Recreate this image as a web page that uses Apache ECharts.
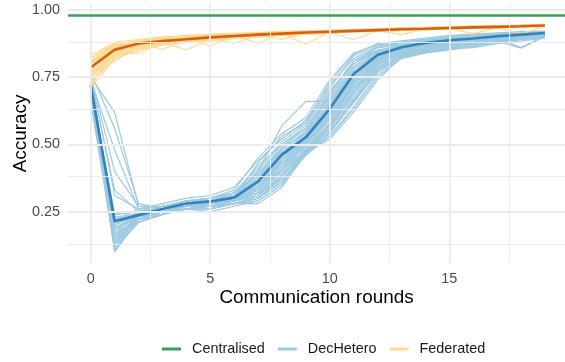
<!DOCTYPE html>
<html>
<head>
<meta charset="utf-8">
<script src="https://cdn.jsdelivr.net/npm/echarts@6/dist/echarts.min.js"></script>
<style>
  html, body { margin: 0; padding: 0; background: #ffffff; }
  #chart { width: 565px; height: 362px; }
</style>
</head>
<body>
<div id="chart"></div>
<script>
// Communication rounds on the x axis
const rounds = [0, 1, 2, 3, 4, 5, 6, 7, 8, 9, 10, 11, 12, 13, 14, 15, 16, 17, 18, 19];

// Tick labels
const xTicks = [0, 5, 10, 15];
const yTicks = [0.25, 0.5, 0.75, 1.0];
const xMinorTicks = [2.5, 7.5, 12.5, 17.5];
const yMinorTicks = [0.125, 0.375, 0.625, 0.875];

// Centralised training reference accuracy
const centralisedAccuracy = 0.98;

// Individual DecHetero runs
const decHeteroRuns = [
  [0.74,0.18,0.25,0.27,0.29,0.30,0.33,0.45,0.54,0.60,0.74,0.84,0.87,0.88,0.89,0.90,0.91,0.91,0.92,0.92],
  [0.70,0.22,0.26,0.28,0.30,0.31,0.34,0.44,0.52,0.59,0.72,0.82,0.86,0.88,0.89,0.90,0.905,0.91,0.915,0.92],
  [0.76,0.15,0.24,0.27,0.28,0.30,0.32,0.42,0.50,0.57,0.70,0.80,0.86,0.87,0.88,0.89,0.90,0.91,0.91,0.915],
  [0.72,0.20,0.25,0.26,0.29,0.29,0.31,0.40,0.50,0.56,0.68,0.80,0.85,0.87,0.885,0.895,0.90,0.905,0.91,0.915],
  [0.68,0.12,0.23,0.26,0.28,0.29,0.31,0.39,0.48,0.55,0.67,0.79,0.85,0.865,0.88,0.89,0.90,0.905,0.91,0.91],
  [0.75,0.62,0.27,0.27,0.28,0.30,0.31,0.38,0.47,0.54,0.66,0.78,0.84,0.86,0.88,0.89,0.895,0.90,0.91,0.915],
  [0.71,0.23,0.24,0.26,0.28,0.28,0.30,0.37,0.46,0.53,0.65,0.77,0.84,0.86,0.875,0.885,0.895,0.90,0.905,0.91],
  [0.73,0.10,0.22,0.25,0.27,0.28,0.30,0.36,0.46,0.52,0.64,0.77,0.83,0.86,0.87,0.885,0.89,0.90,0.91,0.915],
  [0.77,0.56,0.28,0.26,0.27,0.29,0.30,0.35,0.45,0.52,0.63,0.76,0.83,0.855,0.875,0.88,0.89,0.90,0.90,0.91],
  [0.69,0.19,0.23,0.25,0.27,0.28,0.30,0.35,0.44,0.51,0.62,0.75,0.82,0.85,0.87,0.88,0.89,0.90,0.905,0.91],
  [0.72,0.14,0.22,0.25,0.27,0.29,0.29,0.34,0.43,0.50,0.61,0.74,0.82,0.85,0.865,0.88,0.89,0.895,0.86,0.905],
  [0.74,0.48,0.26,0.27,0.29,0.30,0.31,0.34,0.43,0.50,0.60,0.73,0.81,0.85,0.87,0.88,0.885,0.895,0.905,0.91],
  [0.70,0.21,0.24,0.25,0.27,0.28,0.29,0.33,0.42,0.49,0.59,0.72,0.81,0.84,0.86,0.875,0.885,0.89,0.90,0.91],
  [0.66,0.11,0.22,0.24,0.26,0.27,0.29,0.32,0.41,0.48,0.58,0.71,0.80,0.84,0.845,0.852,0.88,0.89,0.90,0.905],
  [0.76,0.40,0.27,0.26,0.28,0.29,0.30,0.32,0.40,0.48,0.57,0.70,0.80,0.835,0.85,0.87,0.88,0.89,0.90,0.91],
  [0.73,0.16,0.23,0.25,0.27,0.28,0.29,0.31,0.39,0.47,0.56,0.69,0.79,0.83,0.855,0.865,0.861,0.89,0.90,0.905],
  [0.71,0.24,0.25,0.26,0.28,0.27,0.28,0.31,0.38,0.47,0.55,0.67,0.78,0.83,0.85,0.86,0.875,0.885,0.858,0.90],
  [0.67,0.13,0.21,0.24,0.26,0.26,0.28,0.30,0.37,0.46,0.54,0.66,0.77,0.82,0.845,0.86,0.87,0.885,0.895,0.90],
  [0.75,0.33,0.25,0.27,0.28,0.27,0.28,0.30,0.36,0.47,0.53,0.64,0.76,0.82,0.84,0.855,0.865,0.88,0.89,0.90],
  [0.72,0.17,0.22,0.24,0.26,0.25,0.27,0.29,0.35,0.46,0.53,0.63,0.75,0.82,0.84,0.85,0.865,0.88,0.89,0.90],
  [0.70,0.21,0.23,0.24,0.27,0.26,0.28,0.28,0.34,0.47,0.52,0.62,0.74,0.825,0.845,0.855,0.86,0.875,0.885,0.895],
  [0.74,0.19,0.24,0.26,0.28,0.29,0.31,0.40,0.57,0.66,0.66,0.76,0.82,0.86,0.88,0.89,0.90,0.90,0.91,0.92],
  [0.69,0.14,0.23,0.25,0.26,0.27,0.30,0.36,0.40,0.50,0.60,0.72,0.81,0.845,0.86,0.875,0.885,0.895,0.905,0.91],
  [0.73,0.22,0.24,0.26,0.28,0.29,0.30,0.38,0.49,0.54,0.69,0.81,0.85,0.86,0.88,0.89,0.895,0.905,0.91,0.915],
  [0.71,0.105,0.22,0.25,0.27,0.28,0.30,0.43,0.53,0.58,0.73,0.835,0.875,0.885,0.895,0.905,0.91,0.915,0.918,0.92],
  [0.69,0.13,0.23,0.26,0.28,0.29,0.32,0.41,0.51,0.58,0.71,0.83,0.865,0.88,0.89,0.90,0.905,0.912,0.915,0.918],
  [0.73,0.17,0.24,0.27,0.29,0.30,0.32,0.39,0.49,0.56,0.69,0.81,0.86,0.875,0.885,0.895,0.90,0.908,0.912,0.916],
  [0.75,0.20,0.25,0.27,0.28,0.29,0.31,0.37,0.48,0.55,0.67,0.79,0.845,0.87,0.88,0.89,0.897,0.904,0.91,0.914],
  [0.70,0.15,0.22,0.25,0.27,0.28,0.30,0.36,0.47,0.54,0.655,0.78,0.84,0.865,0.878,0.888,0.895,0.902,0.907,0.912],
  [0.67,0.22,0.24,0.26,0.27,0.28,0.29,0.35,0.45,0.53,0.645,0.765,0.835,0.86,0.875,0.885,0.893,0.90,0.905,0.91],
  [0.72,0.12,0.21,0.24,0.26,0.27,0.29,0.34,0.44,0.52,0.635,0.755,0.83,0.857,0.872,0.883,0.89,0.898,0.903,0.908],
  [0.74,0.18,0.23,0.25,0.27,0.28,0.30,0.33,0.44,0.515,0.625,0.745,0.825,0.855,0.87,0.88,0.888,0.896,0.902,0.907],
  [0.70,0.24,0.25,0.27,0.28,0.29,0.30,0.33,0.43,0.51,0.615,0.735,0.82,0.852,0.868,0.878,0.886,0.894,0.90,0.906],
  [0.68,0.16,0.22,0.25,0.26,0.27,0.29,0.32,0.42,0.505,0.605,0.725,0.815,0.85,0.865,0.876,0.884,0.892,0.899,0.905],
  [0.71,0.11,0.21,0.24,0.26,0.27,0.28,0.31,0.41,0.50,0.59,0.71,0.805,0.845,0.86,0.872,0.882,0.89,0.897,0.903],
  [0.73,0.20,0.24,0.26,0.27,0.27,0.28,0.30,0.38,0.49,0.575,0.695,0.795,0.838,0.855,0.868,0.878,0.887,0.895,0.902],
  [0.69,0.14,0.22,0.24,0.26,0.26,0.28,0.30,0.36,0.48,0.56,0.68,0.785,0.832,0.85,0.864,0.875,0.885,0.893,0.90],
  [0.72,0.23,0.24,0.25,0.27,0.27,0.28,0.29,0.35,0.47,0.545,0.655,0.77,0.826,0.846,0.86,0.872,0.882,0.891,0.899],
  [0.76,0.31,0.26,0.26,0.27,0.28,0.29,0.31,0.39,0.475,0.565,0.70,0.80,0.84,0.856,0.87,0.88,0.888,0.896,0.904],
  [0.70,0.19,0.23,0.25,0.27,0.27,0.29,0.32,0.37,0.465,0.55,0.665,0.775,0.83,0.85,0.862,0.874,0.884,0.892,0.90]
];

// Individual Federated runs
const federatedRuns = [
  [0.83,0.88,0.89,0.90,0.905,0.91,0.913,0.916,0.92,0.922,0.925,0.928,0.93,0.933,0.935,0.938,0.94,0.942,0.944,0.946],
  [0.81,0.87,0.885,0.895,0.90,0.905,0.91,0.915,0.918,0.92,0.923,0.926,0.928,0.93,0.933,0.936,0.938,0.94,0.942,0.945],
  [0.79,0.86,0.88,0.89,0.895,0.90,0.906,0.91,0.915,0.918,0.921,0.924,0.927,0.93,0.932,0.935,0.937,0.939,0.941,0.943],
  [0.77,0.85,0.875,0.885,0.89,0.898,0.904,0.908,0.912,0.873,0.918,0.922,0.925,0.927,0.93,0.933,0.935,0.937,0.94,0.942],
  [0.75,0.84,0.87,0.88,0.851,0.893,0.90,0.905,0.91,0.914,0.917,0.92,0.923,0.908,0.928,0.93,0.933,0.936,0.938,0.94],
  [0.73,0.83,0.86,0.875,0.885,0.89,0.898,0.903,0.908,0.912,0.915,0.89,0.922,0.925,0.927,0.929,0.912,0.934,0.937,0.94],
  [0.71,0.82,0.85,0.87,0.88,0.885,0.895,0.90,0.905,0.91,0.914,0.918,0.92,0.924,0.926,0.928,0.931,0.933,0.912,0.938],
  [0.82,0.875,0.85,0.89,0.898,0.905,0.91,0.913,0.917,0.92,0.922,0.925,0.928,0.932,0.934,0.937,0.939,0.941,0.943,0.945],
  [0.80,0.865,0.88,0.853,0.89,0.902,0.907,0.912,0.915,0.919,0.921,0.925,0.927,0.93,0.933,0.935,0.937,0.94,0.942,0.944],
  [0.78,0.855,0.88,0.888,0.895,0.866,0.905,0.876,0.913,0.917,0.92,0.923,0.926,0.929,0.931,0.934,0.936,0.938,0.941,0.943],
  [0.76,0.835,0.84,0.88,0.887,0.895,0.876,0.906,0.91,0.914,0.918,0.921,0.924,0.927,0.93,0.932,0.935,0.937,0.939,0.941],
  [0.74,0.81,0.86,0.878,0.886,0.894,0.90,0.905,0.89,0.913,0.917,0.92,0.923,0.926,0.929,0.931,0.934,0.936,0.938,0.94],
  [0.72,0.845,0.87,0.882,0.89,0.897,0.902,0.907,0.911,0.915,0.919,0.922,0.925,0.928,0.93,0.934,0.936,0.938,0.94,0.943],
  [0.80,0.86,0.878,0.886,0.893,0.90,0.905,0.909,0.913,0.917,0.92,0.924,0.927,0.93,0.932,0.935,0.937,0.939,0.942,0.944],
  [0.82,0.872,0.886,0.895,0.901,0.906,0.911,0.915,0.918,0.921,0.924,0.927,0.929,0.932,0.934,0.937,0.939,0.941,0.943,0.946],
  [0.785,0.858,0.879,0.889,0.896,0.901,0.906,0.91,0.914,0.917,0.921,0.923,0.926,0.929,0.931,0.934,0.936,0.939,0.941,0.944],
  [0.765,0.848,0.873,0.884,0.892,0.897,0.903,0.907,0.911,0.915,0.918,0.922,0.924,0.927,0.93,0.932,0.935,0.937,0.94,0.942],
  [0.745,0.838,0.866,0.879,0.887,0.894,0.899,0.904,0.909,0.913,0.916,0.92,0.923,0.926,0.928,0.931,0.933,0.936,0.938,0.941],
  [0.805,0.866,0.882,0.892,0.898,0.903,0.908,0.912,0.916,0.919,0.922,0.925,0.928,0.931,0.933,0.936,0.938,0.94,0.943,0.945],
  [0.725,0.826,0.858,0.873,0.883,0.89,0.896,0.901,0.906,0.91,0.914,0.918,0.921,0.924,0.927,0.93,0.932,0.935,0.937,0.94]
];

// Mean accuracy per round
const decHeteroMean = [0.72,0.214,0.237,0.26,0.28,0.288,0.302,0.362,0.462,0.527,0.632,0.762,0.832,0.861,0.877,0.887,0.894,0.902,0.908,0.914];
const federatedMean = [0.786,0.852,0.875,0.884,0.891,0.898,0.903,0.908,0.912,0.916,0.919,0.922,0.925,0.928,0.930,0.933,0.935,0.937,0.939,0.942];

const COLORS = {
  centralised: '#31a354',
  decLight: '#9ecae1',
  decDark: '#3182bd',
  fedLight: '#fed98e',
  fedDark: '#d95f0e',
  grid: '#ebebeb'
};
const FONT = 'Liberation Sans, Arial, Helvetica, sans-serif';

const toPoints = (vals) => vals.map((v, i) => [rounds[i], v]);

const runSeries = (runs, name, color) => runs.map((r) => ({
  name: name,
  type: 'line',
  data: toPoints(r),
  symbol: 'none',
  silent: true,
  z: 2,
  lineStyle: { color: color, width: 1.2 },
  itemStyle: { color: color }
}));

const gridLine = (axis, v, width) => ({
  [axis]: v,
  lineStyle: { color: COLORS.grid, width: width, type: 'solid' }
});

const series = [
  // background grid drawn on the axis scales
  {
    name: 'grid',
    type: 'line',
    data: [],
    silent: true,
    z: 0,
    markLine: {
      silent: true,
      symbol: ['none', 'none'],
      label: { show: false },
      animation: false,
      data: [
        ...xMinorTicks.map((v) => gridLine('xAxis', v, 0.9)),
        ...yMinorTicks.map((v) => gridLine('yAxis', v, 0.9)),
        ...xTicks.map((v) => gridLine('xAxis', v, 1.8)),
        ...yTicks.map((v) => gridLine('yAxis', v, 1.8))
      ]
    }
  },
  {
    name: 'Centralised',
    type: 'line',
    data: [],
    symbol: 'none',
    z: 5,
    lineStyle: { color: COLORS.centralised, width: 2.6 },
    itemStyle: { color: COLORS.centralised },
    markLine: {
      silent: true,
      symbol: ['none', 'none'],
      label: { show: false },
      animation: false,
      data: [{ yAxis: centralisedAccuracy, lineStyle: { color: COLORS.centralised, width: 2.6, type: 'solid' } }]
    }
  },
  ...runSeries(decHeteroRuns, 'DecHetero', COLORS.decLight),
  ...runSeries(federatedRuns, 'Federated', COLORS.fedLight),
  {
    name: 'DecHetero mean',
    type: 'line',
    data: toPoints(decHeteroMean),
    symbol: 'none',
    z: 4,
    lineStyle: { color: COLORS.decDark, width: 2.6 },
    itemStyle: { color: COLORS.decDark }
  },
  {
    name: 'Federated mean',
    type: 'line',
    data: toPoints(federatedMean),
    symbol: 'none',
    z: 4,
    lineStyle: { color: COLORS.fedDark, width: 2.6 },
    itemStyle: { color: COLORS.fedDark }
  }
];

const chart = echarts.init(document.getElementById('chart'), null, { renderer: 'canvas' });
chart.setOption({
  animation: false,
  backgroundColor: '#ffffff',
  textStyle: { fontFamily: FONT },
  grid: { left: 68, right: 0, top: 4, bottom: 99, containLabel: false, outerBoundsMode: 'none' },
  legend: {
    data: ['Centralised', 'DecHetero', 'Federated'],
    top: 337,
    left: 157,
    icon: 'rect',
    itemWidth: 19,
    itemHeight: 3,
    itemGap: 13,
    selectedMode: false,
    textStyle: { fontFamily: FONT, fontSize: 14.4, color: '#1a1a1a', padding: [0, 0, 0, 6] }
  },
  xAxis: {
    type: 'value',
    min: -0.95,
    max: 19.84,
    name: 'Communication rounds',
    nameLocation: 'middle',
    nameGap: 25,
    nameMoveOverlap: false,
    nameTextStyle: { fontFamily: FONT, fontSize: 18.9, color: '#000000', verticalAlign: 'top' },
    axisLine: { show: false },
    axisTick: { show: false },
    splitLine: { show: false },
    axisLabel: {
      customValues: xTicks,
      margin: 9,
      fontFamily: FONT,
      fontSize: 14.4,
      color: '#4d4d4d'
    }
  },
  yAxis: {
    type: 'value',
    min: 0.059,
    max: 1.022,
    name: 'Accuracy',
    nameLocation: 'middle',
    nameGap: 38,
    nameMoveOverlap: false,
    nameTextStyle: { fontFamily: FONT, fontSize: 18.9, color: '#000000' },
    axisLine: { show: false },
    axisTick: { show: false },
    splitLine: { show: false },
    axisLabel: {
      customValues: yTicks,
      margin: 8,
      fontFamily: FONT,
      fontSize: 14.4,
      color: '#4d4d4d',
      formatter: (v) => v.toFixed(2)
    }
  },
  series: series
});
</script>
</body>
</html>
